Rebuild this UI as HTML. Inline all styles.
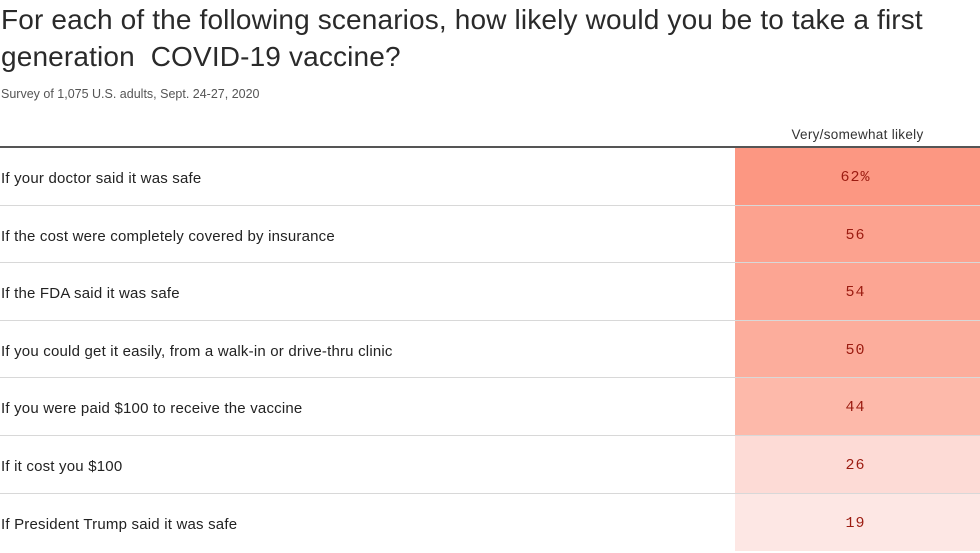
<!DOCTYPE html>
<html><head><style>
body{margin:0;width:980px;height:551px;overflow:hidden;background:#fff;font-family:"Liberation Sans",sans-serif;color:#222;position:relative}
.t{position:absolute;left:1px;top:1px;font-size:28px;line-height:37px;color:#2a2a2a;letter-spacing:0.15px}
.s{position:absolute;left:1px;top:87px;font-size:12.5px;color:#555}
.h{position:absolute;left:735px;width:245px;top:127px;text-align:center;font-size:13.5px;color:#333;letter-spacing:0.3px}
.hl{position:absolute;left:0;top:146px;width:980px;height:2px;background:#555}
.r{position:absolute;left:0;width:980px;height:57.6px;border-bottom:1px solid #d8d8d8;box-sizing:border-box}
.r span{position:absolute;left:1px;top:2px;line-height:57px;font-size:15px;color:#222;letter-spacing:0.2px}
.r b{position:absolute;left:735px;width:245px;top:0;height:100%;text-align:center;line-height:59px;font-weight:normal;font-family:"Liberation Mono",monospace;font-size:15px;color:#9b1b10;letter-spacing:1px;text-indent:-4px}
</style></head><body>
<div class="t">For each of the following scenarios, how likely would you be to take a first<br>generation&nbsp; COVID-19 vaccine?</div>
<div class="s">Survey of 1,075 U.S. adults, Sept. 24-27, 2020</div>
<div class="h">Very/somewhat likely</div>
<div class="hl"></div>
<div class="r" style="top:148px"><span>If your doctor said it was safe</span><b style="background:#fc9782">62%</b></div>
<div class="r" style="top:205.6px"><span>If the cost were completely covered by insurance</span><b style="background:#fca28f">56</b></div>
<div class="r" style="top:263.2px"><span>If the FDA said it was safe</span><b style="background:#fca593">54</b></div>
<div class="r" style="top:320.8px"><span>If you could get it easily, from a walk-in or drive-thru clinic</span><b style="background:#fcad9c">50</b></div>
<div class="r" style="top:378.4px"><span>If you were paid $100 to receive the vaccine</span><b style="background:#fdb9aa">44</b></div>
<div class="r" style="top:436px"><span>If it cost you $100</span><b style="background:#fddbd6">26</b></div>
<div class="r" style="top:493.6px;border-bottom:none"><span>If President Trump said it was safe</span><b style="background:#fde7e4">19</b></div>
</body></html>
